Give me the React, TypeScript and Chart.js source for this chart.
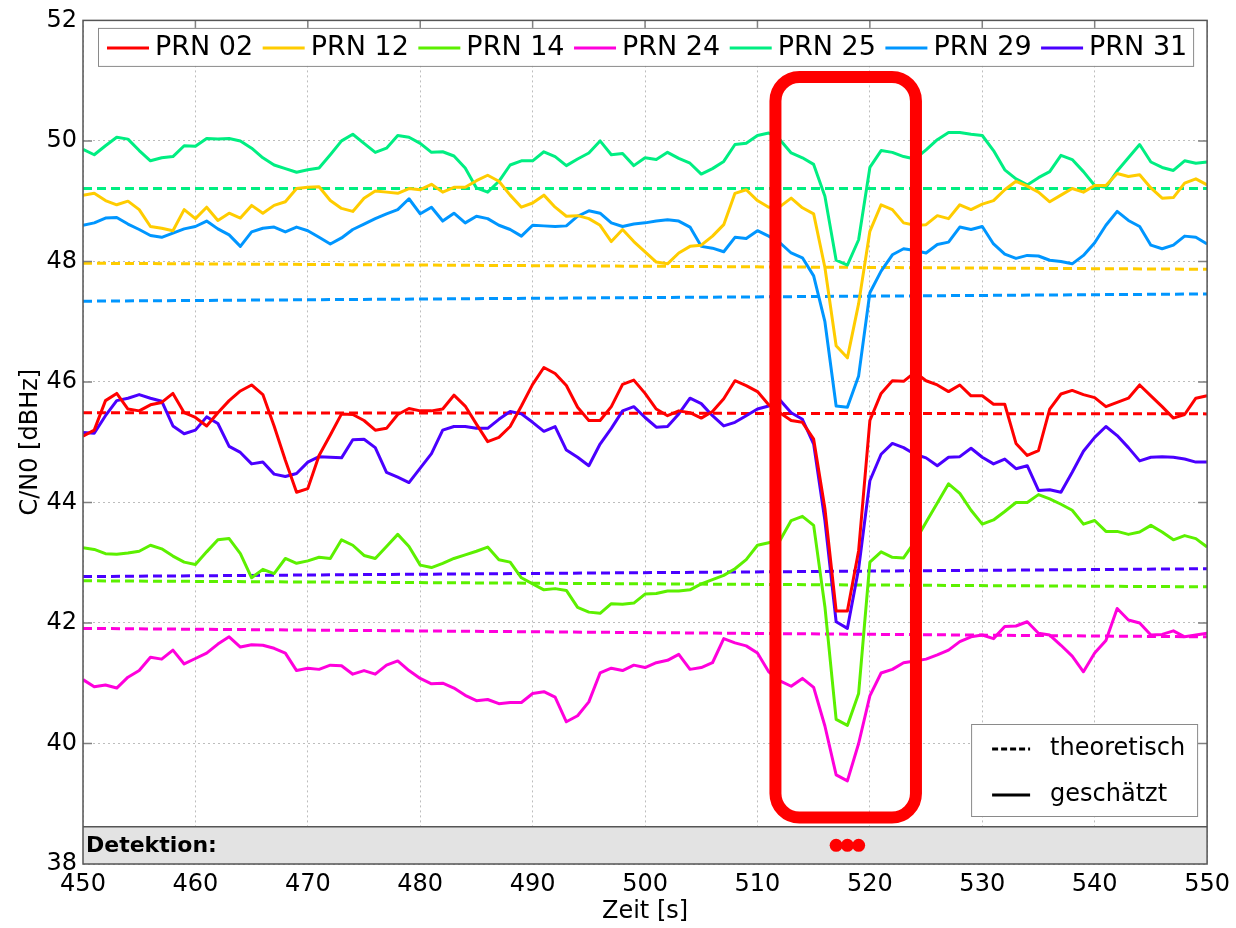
import React, { useEffect, useRef } from 'react';
import { Chart, registerables } from 'chart.js';

Chart.register(...registerables);

const FONT = '"DejaVu Sans", "Liberation Sans", Arial, sans-serif';

// time axis: one sample per second
const seconds = Array.from({ length: 101 }, (_, i) => 450 + i);

// measured C/N0 ("geschätzt")
const prn02 = [
  45.1, 45.2, 45.69, 45.81, 45.55, 45.52, 45.62, 45.66, 45.81, 45.49,
  45.41, 45.27, 45.49, 45.69, 45.85, 45.95, 45.79, 45.27, 44.7, 44.17,
  44.23, 44.78, 45.12, 45.47, 45.46, 45.36, 45.2, 45.23, 45.46, 45.56,
  45.52, 45.52, 45.55, 45.78, 45.6, 45.3, 45.01, 45.08, 45.26, 45.6,
  45.96, 46.24, 46.14, 45.94, 45.58, 45.36, 45.36, 45.59, 45.96, 46.03,
  45.81, 45.55, 45.44, 45.52, 45.49, 45.4, 45.51, 45.72, 46.02, 45.94,
  45.84, 45.62, 45.49, 45.36, 45.33, 45.05, 43.9, 42.2, 42.2, 43.2,
  45.36, 45.81, 46.02, 46.01, 46.16, 46.02, 45.95, 45.84, 45.95, 45.77,
  45.77, 45.63, 45.63, 44.98, 44.78, 44.86, 45.55, 45.8, 45.86, 45.79,
  45.74, 45.59, 45.66, 45.73, 45.95, 45.77, 45.59, 45.4, 45.46, 45.73,
  45.77,
];
const prn12 = [
  49.1, 49.13, 49.01, 48.94, 49.0, 48.86, 48.58, 48.55, 48.51, 48.86,
  48.71, 48.9, 48.68, 48.8, 48.72, 48.93, 48.8, 48.93, 48.99, 49.21,
  49.23, 49.24, 49.01, 48.88, 48.83, 49.05, 49.17, 49.15, 49.13, 49.21,
  49.19, 49.28, 49.15, 49.23, 49.23, 49.34, 49.43, 49.33, 49.1, 48.9,
  48.97, 49.1, 48.9, 48.75, 48.76, 48.71, 48.6, 48.33, 48.53, 48.33,
  48.16, 47.99, 47.96, 48.14, 48.25, 48.27, 48.42, 48.61, 49.13, 49.19,
  49.01, 48.9, 48.91, 49.05, 48.89, 48.79, 47.9, 46.6, 46.4, 47.3,
  48.5, 48.94, 48.86, 48.64, 48.6, 48.61, 48.76, 48.71, 48.94, 48.86,
  48.95, 49.01, 49.19, 49.33, 49.25, 49.15, 48.99, 49.1, 49.21, 49.15,
  49.26, 49.26, 49.46, 49.41, 49.44, 49.22, 49.05, 49.06, 49.3, 49.37,
  49.27,
];
const prn14 = [
  43.25, 43.22, 43.15, 43.14, 43.16, 43.19, 43.29, 43.23, 43.11, 43.01,
  42.97, 43.18, 43.38, 43.4, 43.15, 42.75, 42.89, 42.82, 43.07, 42.99,
  43.03, 43.09, 43.07, 43.38, 43.29, 43.12, 43.07, 43.27, 43.47, 43.27,
  42.96, 42.92, 42.99, 43.07, 43.13, 43.19, 43.26, 43.05, 43.01, 42.75,
  42.65, 42.55, 42.57, 42.54, 42.26, 42.18, 42.16, 42.32, 42.31, 42.33,
  42.48, 42.49, 42.53, 42.53, 42.55, 42.65, 42.72, 42.79, 42.9, 43.05,
  43.29, 43.33, 43.37, 43.7, 43.77, 43.62, 42.27, 40.4, 40.3, 40.83,
  43.01, 43.18, 43.09, 43.08, 43.35, 43.67, 43.99, 44.31, 44.15, 43.87,
  43.64, 43.71, 43.85, 44.0, 44.0, 44.13, 44.06, 43.97, 43.87, 43.64,
  43.7, 43.52, 43.52, 43.47, 43.51, 43.62, 43.51, 43.38, 43.45, 43.4,
  43.26,
];
const prn24 = [
  41.06, 40.94, 40.97, 40.92, 41.1, 41.21, 41.43, 41.4, 41.55, 41.32,
  41.41, 41.5, 41.65, 41.77, 41.6, 41.64, 41.63, 41.58, 41.5, 41.21,
  41.25, 41.23, 41.3, 41.29, 41.15, 41.21, 41.15, 41.3, 41.37, 41.21,
  41.08, 40.99, 41.0, 40.92, 40.8, 40.71, 40.73, 40.66, 40.68, 40.68,
  40.83, 40.86, 40.77, 40.36, 40.46, 40.69, 41.17, 41.25, 41.21, 41.3,
  41.26, 41.34, 41.38, 41.48, 41.23, 41.26, 41.34, 41.74, 41.67, 41.62,
  41.5, 41.19, 41.04, 40.95, 41.08, 40.93, 40.29, 39.48, 39.38, 40.0,
  40.79, 41.17, 41.23, 41.34, 41.37, 41.4, 41.47, 41.55, 41.69, 41.77,
  41.8, 41.74, 41.94, 41.95, 42.02, 41.83, 41.8, 41.63, 41.45, 41.19,
  41.5, 41.71, 42.24, 42.05, 42.0, 41.8, 41.81, 41.87, 41.77, 41.8,
  41.83,
];
const prn25 = [
  49.86, 49.77, 49.92, 50.06, 50.03, 49.84, 49.67, 49.72, 49.74, 49.92,
  49.91, 50.04, 50.03, 50.04, 50.0, 49.88, 49.72, 49.6, 49.54, 49.48,
  49.52, 49.55, 49.77, 50.0, 50.11, 49.96, 49.81, 49.88, 50.09, 50.06,
  49.96, 49.81, 49.82, 49.75, 49.55, 49.22, 49.15, 49.33, 49.6, 49.67,
  49.67, 49.82, 49.74, 49.59, 49.7, 49.8, 50.0, 49.77, 49.79, 49.59,
  49.72, 49.69, 49.81, 49.71, 49.63, 49.45, 49.54, 49.66, 49.94, 49.96,
  50.09, 50.13, 50.02, 49.8, 49.72, 49.61, 49.08, 48.02, 47.94, 48.36,
  49.56, 49.84, 49.81, 49.74, 49.7, 49.85, 50.02, 50.14, 50.14, 50.11,
  50.09, 49.84, 49.52, 49.37, 49.27, 49.39, 49.49, 49.76, 49.69, 49.49,
  49.26, 49.23, 49.5, 49.72, 49.94, 49.65, 49.56, 49.51, 49.67, 49.63,
  49.65,
];
const prn29 = [
  48.6, 48.64, 48.72, 48.73, 48.62, 48.53, 48.43, 48.4, 48.47, 48.54,
  48.58, 48.67, 48.54, 48.44, 48.25, 48.49, 48.55, 48.57, 48.49, 48.57,
  48.51, 48.4, 48.29, 48.39, 48.53, 48.62, 48.71, 48.79, 48.86, 49.04,
  48.79, 48.9, 48.67, 48.8, 48.64, 48.75, 48.71, 48.6, 48.53, 48.42,
  48.6, 48.59, 48.58, 48.59, 48.75, 48.84, 48.8, 48.64, 48.58, 48.62,
  48.64, 48.67, 48.69, 48.67, 48.57, 48.25, 48.22, 48.16, 48.4, 48.38,
  48.51, 48.42, 48.31, 48.14, 48.06, 47.76, 47.0, 45.6, 45.58, 46.1,
  47.48, 47.84, 48.11, 48.21, 48.18, 48.14, 48.28, 48.32, 48.57, 48.53,
  48.58, 48.29, 48.12, 48.05, 48.1, 48.09, 48.02, 48.0, 47.96, 48.1,
  48.31, 48.6, 48.83, 48.68, 48.58, 48.27, 48.21, 48.27, 48.42, 48.4,
  48.29,
];
const prn31 = [
  45.16, 45.15, 45.44, 45.69, 45.73, 45.79, 45.73, 45.68, 45.27, 45.14,
  45.2, 45.42, 45.31, 44.93, 44.83, 44.64, 44.67, 44.47, 44.43, 44.48,
  44.67, 44.76, 44.75, 44.74, 45.04, 45.05, 44.91, 44.5, 44.42, 44.33,
  44.57, 44.81, 45.2, 45.26, 45.26, 45.23, 45.23, 45.38, 45.51, 45.47,
  45.33, 45.18, 45.26, 44.87, 44.75, 44.61, 44.97, 45.23, 45.52, 45.59,
  45.41, 45.25, 45.26, 45.47, 45.73, 45.64, 45.44, 45.27, 45.33, 45.44,
  45.55, 45.6, 45.7, 45.49, 45.38, 44.97, 43.7, 42.02, 41.91, 42.9,
  44.36, 44.8, 44.98, 44.91, 44.8, 44.74, 44.61, 44.75, 44.76, 44.9,
  44.75, 44.64, 44.72, 44.56, 44.61, 44.2, 44.21, 44.17, 44.5, 44.85,
  45.08, 45.26, 45.11, 44.91, 44.69, 44.75, 44.76, 44.75, 44.72, 44.67,
  44.67,
];

// theoretical C/N0 (start / end of the interval)
const theoTimes = [450, 550];
const theo02 = [45.49, 45.47];
const theo12 = [47.97, 47.87];
const theo14 = [42.7, 42.6];
const theo24 = [41.91, 41.77];
const theo25 = [49.21, 49.21];
const theo29 = [47.34, 47.46];
const theo31 = [42.77, 42.9];

const seriesNames = ['PRN 02', 'PRN 12', 'PRN 14', 'PRN 24', 'PRN 25', 'PRN 29', 'PRN 31'];
const seriesColors = ['#ff0000', '#ffcc00', '#5cf000', '#ff00dc', '#00ee82', '#0096ff', '#4a00ff'];
const measured = [prn02, prn12, prn14, prn24, prn25, prn29, prn31];
const theoretical = [theo02, theo12, theo14, theo24, theo25, theo29, theo31];

// detections
const detectionTimes = [517, 518, 519];
const detectionValues = [38.31, 38.31, 38.31];
const detectionBandTop = 38.62;

const xTickValues = [450, 460, 470, 480, 490, 500, 510, 520, 530, 540, 550];
const yTickValues = [38, 40, 42, 44, 46, 48, 50, 52];

const highlight = { from: 511.6, to: 524.1, top: 51.06, bottom: 38.77 };

const decorPlugin = {
  id: 'decor',
  beforeDatasetsDraw(chart: any) {
    const { ctx, chartArea: a, scales } = chart;
    const top = scales.y.getPixelForValue(detectionBandTop);
    ctx.save();
    ctx.fillStyle = '#e3e3e3';
    ctx.fillRect(a.left, top, a.right - a.left, a.bottom - top);
    ctx.strokeStyle = '#555';
    ctx.lineWidth = 1.5;
    ctx.beginPath();
    ctx.moveTo(a.left, top);
    ctx.lineTo(a.right, top);
    ctx.stroke();
    ctx.fillStyle = '#000';
    ctx.font = `bold 22px ${FONT}`;
    ctx.textBaseline = 'middle';
    ctx.textAlign = 'left';
    ctx.fillText('Detektion:', a.left + 3, (top + a.bottom) / 2 + 1);
    ctx.restore();
  },
  afterDatasetsDraw(chart: any) {
    const { ctx, chartArea: a, scales } = chart;
    const x = scales.x;
    const y = scales.y;
    ctx.save();
    // inward tick marks
    ctx.strokeStyle = '#808080';
    ctx.lineWidth = 1.5;
    ctx.beginPath();
    for (const v of xTickValues.slice(1, -1)) {
      const px = x.getPixelForValue(v);
      ctx.moveTo(px, a.top);
      ctx.lineTo(px, a.top + 9);
    }
    for (const v of yTickValues.slice(1, -1)) {
      const py = y.getPixelForValue(v);
      ctx.moveTo(a.left, py);
      ctx.lineTo(a.left + 9, py);
      ctx.moveTo(a.right, py);
      ctx.lineTo(a.right - 9, py);
    }
    ctx.stroke();
    // frame
    ctx.strokeStyle = '#555';
    ctx.lineWidth = 1.5;
    ctx.strokeRect(a.left, a.top, a.right - a.left, a.bottom - a.top);

    // highlight rectangle
    const x1 = x.getPixelForValue(highlight.from);
    const x2 = x.getPixelForValue(highlight.to);
    const y1 = y.getPixelForValue(highlight.top);
    const y2 = y.getPixelForValue(highlight.bottom);
    ctx.strokeStyle = '#ff0000';
    ctx.lineWidth = 12;
    ctx.beginPath();
    (ctx as any).roundRect(x1, y1, x2 - x1, y2 - y1, 24);
    ctx.stroke();

    // series legend (top)
    const lx = a.left + 15;
    const ly = a.top + 7.5;
    const lw = a.right - 14 - lx;
    const lh = 38;
    ctx.fillStyle = '#fff';
    ctx.fillRect(lx, ly, lw, lh);
    ctx.strokeStyle = '#8a8a8a';
    ctx.lineWidth = 1;
    ctx.strokeRect(lx + 0.5, ly + 0.5, lw, lh);
    ctx.font = `27px ${FONT}`;
    ctx.textBaseline = 'middle';
    ctx.textAlign = 'left';
    let cx = lx + 9;
    const cy = ly + lh / 2 + 1;
    seriesNames.forEach((name, i) => {
      ctx.strokeStyle = seriesColors[i];
      ctx.lineWidth = 3;
      ctx.setLineDash([]);
      ctx.beginPath();
      ctx.moveTo(cx, cy);
      ctx.lineTo(cx + 42, cy);
      ctx.stroke();
      ctx.fillStyle = '#000';
      ctx.fillText(name, cx + 48, cy);
      cx += 48 + ctx.measureText(name).width + 9.5;
    });

    // line-style legend (bottom right)
    const bx = a.right - 236;
    const by = a.bottom - 140;
    const bw = 226;
    const bh = 92;
    ctx.fillStyle = '#fff';
    ctx.fillRect(bx, by, bw, bh);
    ctx.strokeStyle = '#8a8a8a';
    ctx.lineWidth = 1;
    ctx.strokeRect(bx + 0.5, by + 0.5, bw, bh);
    ctx.font = `24px ${FONT}`;
    const rows = [
      { label: 'theoretisch', dash: [6, 3] },
      { label: 'geschätzt', dash: [] as number[] },
    ];
    rows.forEach((r, k) => {
      const ry = by + 25 + k * 46;
      ctx.strokeStyle = '#000';
      ctx.lineWidth = 3;
      ctx.setLineDash(r.dash);
      ctx.beginPath();
      ctx.moveTo(bx + 21, ry);
      ctx.lineTo(bx + 59, ry);
      ctx.stroke();
      ctx.setLineDash([]);
      ctx.fillStyle = '#000';
      ctx.fillText(r.label, bx + 79, ry);
    });
    ctx.restore();
  },
};

export default function App() {
  const ref = useRef<HTMLCanvasElement | null>(null);

  useEffect(() => {
    if (!ref.current) return;
    const datasets: any[] = [];
    datasets.push({
      label: 'Detektion',
      data: detectionTimes.map((t, k) => ({ x: t, y: detectionValues[k] })),
      showLine: false,
      pointRadius: 6.5,
      pointBorderWidth: 0,
      pointBackgroundColor: '#ff0000',
      borderColor: '#ff0000',
      backgroundColor: '#ff0000',
    });
    measured.forEach((vals, i) => {
      datasets.push({
        label: seriesNames[i],
        data: vals.map((v, k) => ({ x: seconds[k], y: v })),
        borderColor: seriesColors[i],
        backgroundColor: seriesColors[i],
        borderWidth: 3,
        pointRadius: 0,
        borderJoinStyle: 'round',
        fill: false,
      });
    });
    theoretical.forEach((vals, i) => {
      datasets.push({
        label: seriesNames[i] + ' theoretisch',
        data: vals.map((v, k) => ({ x: theoTimes[k], y: v })),
        borderColor: seriesColors[i],
        backgroundColor: seriesColors[i],
        borderWidth: 3,
        borderDash: [9, 5],
        pointRadius: 0,
        fill: false,
      });
    });

    const chart = new Chart(ref.current, {
      type: 'line',
      data: { datasets },
      options: {
        responsive: false,
        animation: false,
        devicePixelRatio: 1,
        layout: { padding: { top: 18.5, right: 26, left: 0, bottom: 0 } },
        plugins: { legend: { display: false }, tooltip: { enabled: false } },
        elements: { line: { tension: 0 } },
        scales: {
          x: {
            type: 'linear',
            min: 450,
            max: 550,
            afterBuildTicks: (s: any) => {
              s.ticks = xTickValues.map((v) => ({ value: v }));
            },
            afterFit: (s: any) => {
              s.height = 64;
            },
            ticks: {
              font: { family: FONT, size: 24 },
              color: '#000',
              padding: 6,
              maxRotation: 0,
              autoSkip: false,
            },
            grid: { color: '#bdbdbd', lineWidth: 1, drawTicks: false },
            border: { display: false, dash: [2, 3] },
            title: {
              display: true,
              text: 'Zeit [s]',
              color: '#000',
              font: { family: FONT, size: 24 },
              padding: { top: 0, bottom: 2 },
            },
          },
          y: {
            type: 'linear',
            min: 38,
            max: 52,
            afterBuildTicks: (s: any) => {
              s.ticks = yTickValues.map((v) => ({ value: v }));
            },
            afterFit: (s: any) => {
              s.width = 83;
            },
            ticks: {
              font: { family: FONT, size: 24 },
              color: '#000',
              padding: 6,
            },
            grid: { color: '#bdbdbd', lineWidth: 1, drawTicks: false },
            border: { display: false, dash: [2, 3] },
            title: {
              display: true,
              text: 'C/N0 [dBHz]',
              color: '#000',
              font: { family: FONT, size: 24 },
              padding: { top: 16, bottom: 0 },
            },
          },
        },
      } as any,
      plugins: [decorPlugin],
    });
    return () => chart.destroy();
  }, []);

  return (
    <div style={{ position: 'fixed', left: 0, top: 0, width: 1236, height: 928, background: '#fff' }}>
      <canvas ref={ref} width={1236} height={928} style={{ display: 'block', width: 1236, height: 928 }} />
    </div>
  );
}
